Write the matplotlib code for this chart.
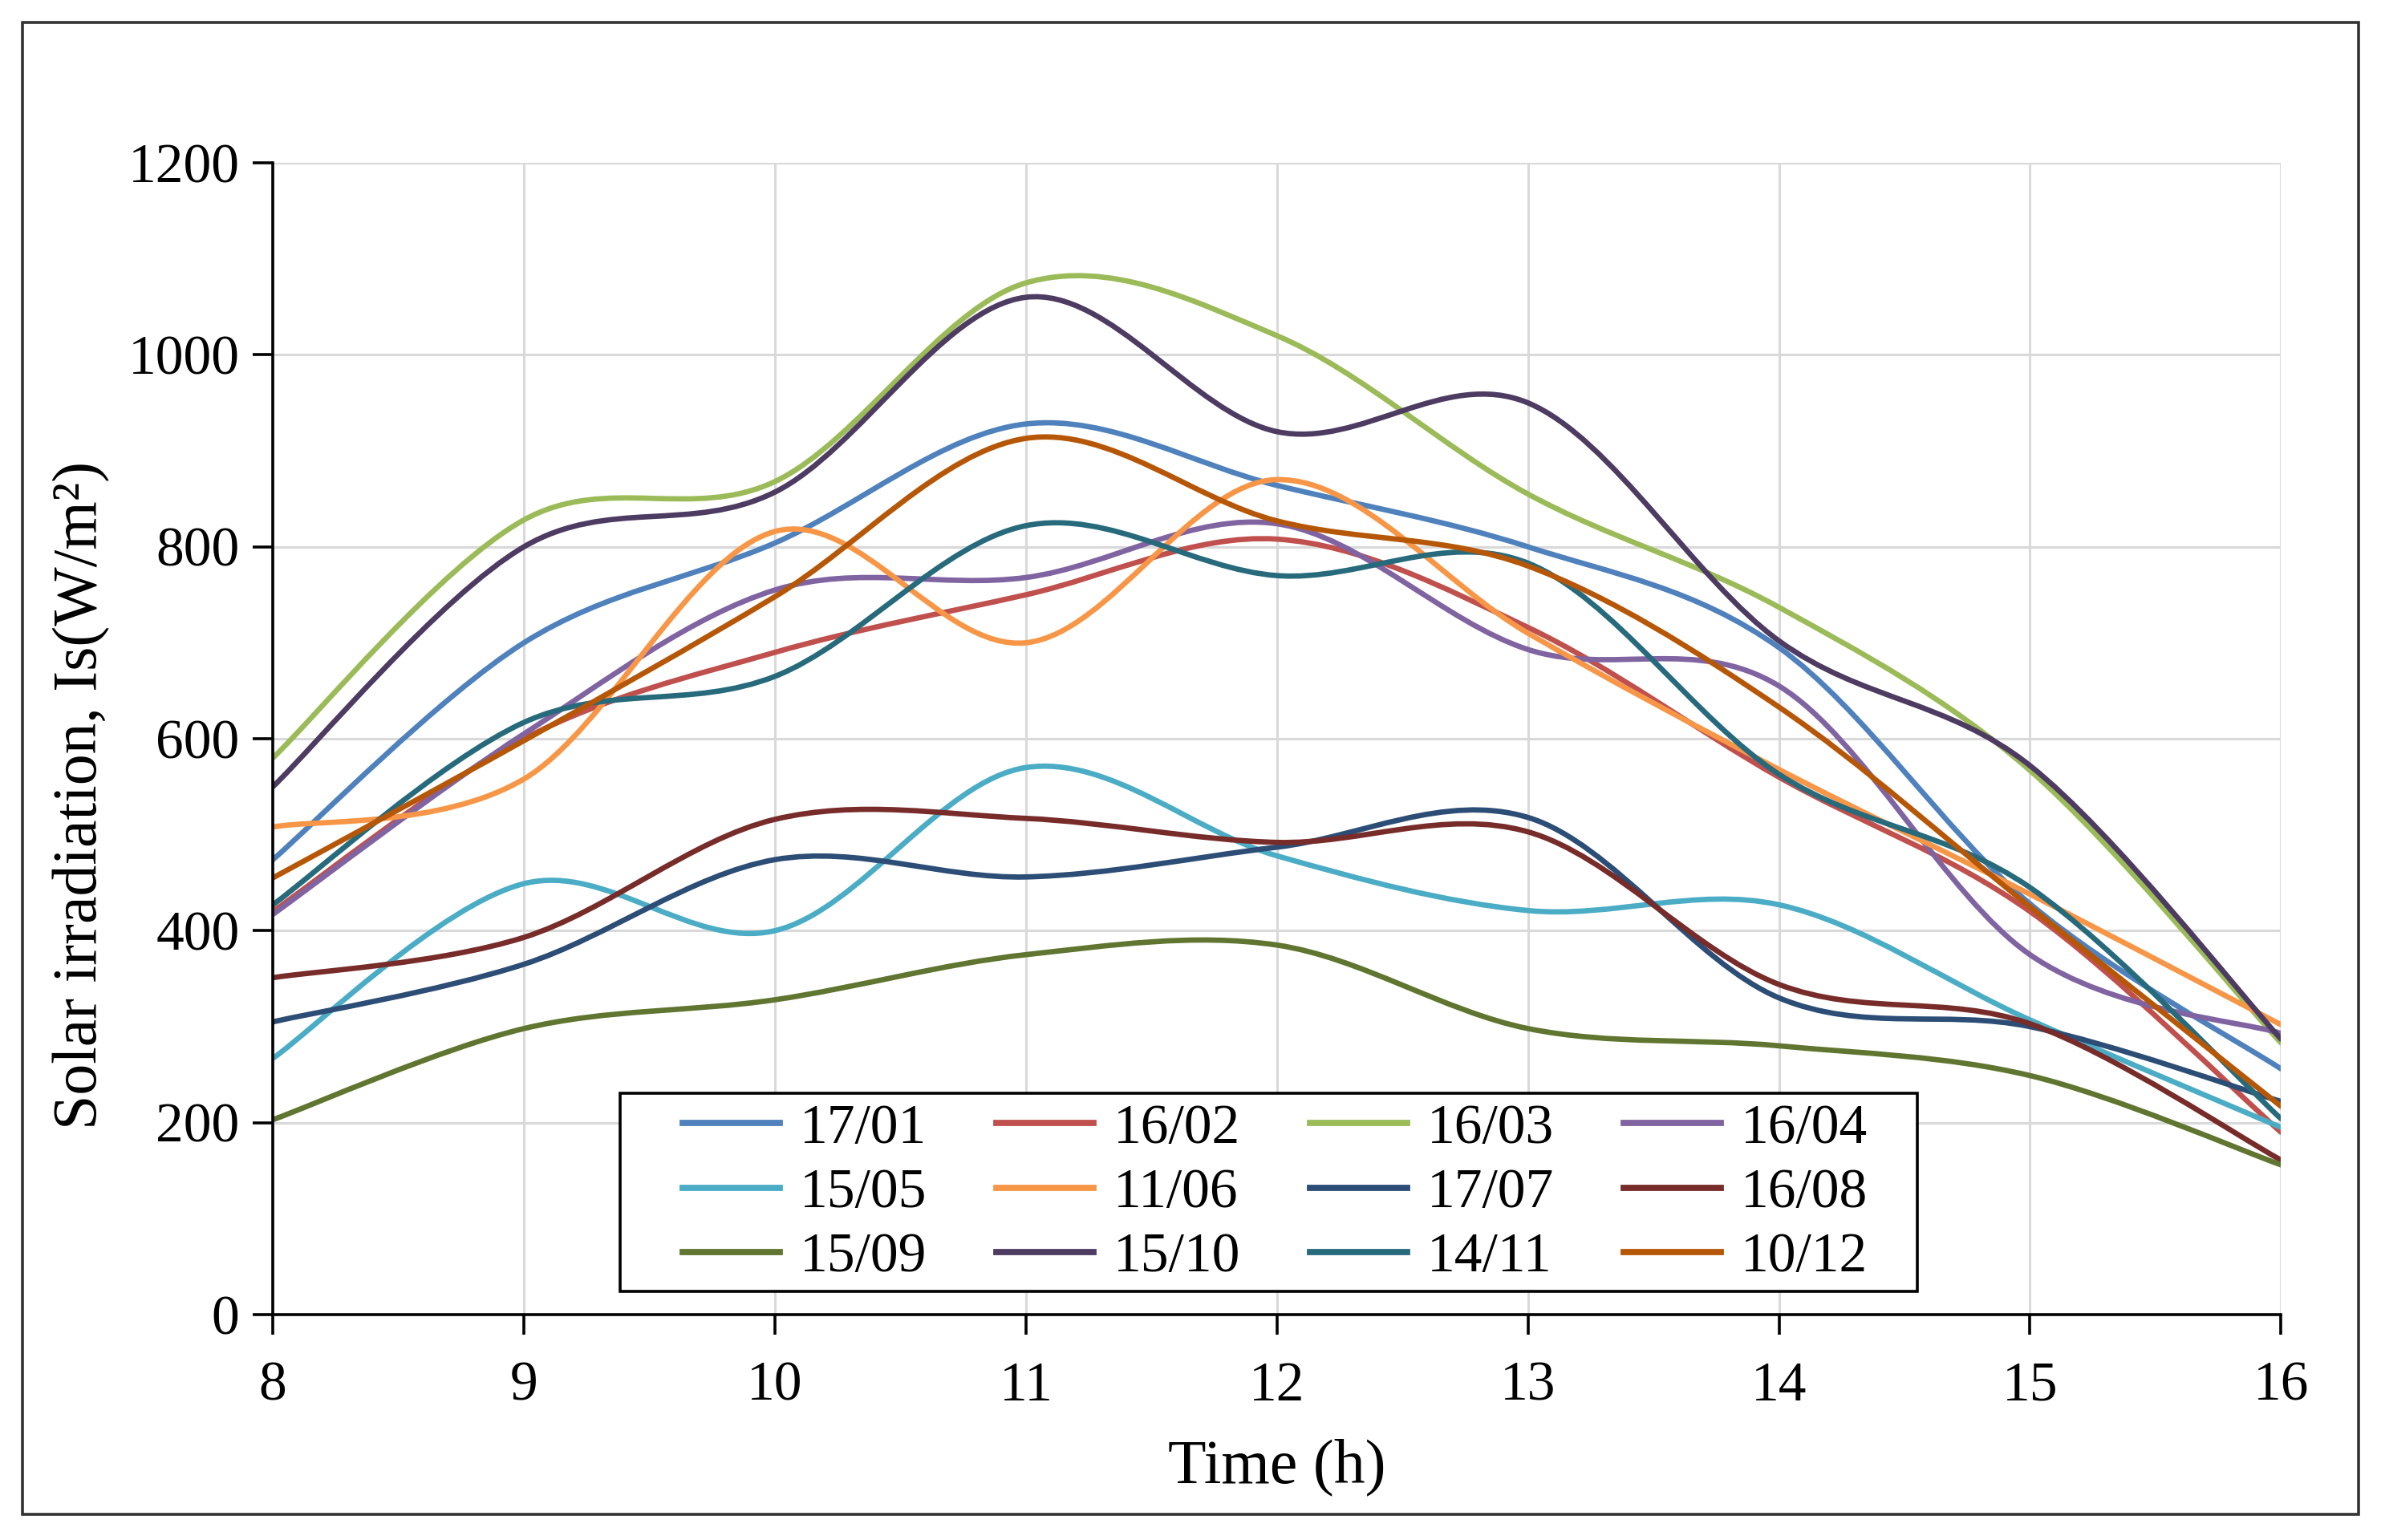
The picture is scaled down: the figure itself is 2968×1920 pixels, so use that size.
import numpy as np
import matplotlib
matplotlib.use("Agg")
from matplotlib import pyplot as plt
from matplotlib.path import Path
from matplotlib.patches import PathPatch, Rectangle
from matplotlib.lines import Line2D

plt.rcParams['font.family'] = ['Liberation Serif', 'DejaVu Serif']

hours = [8, 9, 10, 11, 12, 13, 14, 15, 16]

d_17_01 = [474, 700, 804, 928, 864, 800, 695, 428, 256]
d_16_02 = [420, 600, 690, 750, 808, 716, 560, 420, 190]
d_16_03 = [580, 828, 868, 1075, 1020, 855, 737, 567, 283]
d_16_04 = [417, 605, 755, 768, 824, 693, 655, 375, 293]
d_15_05 = [267, 449, 400, 570, 478, 421, 427, 307, 195]
d_11_06 = [508, 558, 816, 700, 870, 710, 568, 438, 302]
d_17_07 = [305, 365, 474, 456, 487, 518, 330, 300, 222]
d_16_08 = [351, 393, 516, 517, 492, 503, 344, 303, 161]
d_15_09 = [203, 298, 328, 375, 385, 298, 280, 249, 156]
d_15_10 = [550, 800, 857, 1060, 920, 950, 702, 572, 287]
d_14_11 = [427, 617, 665, 822, 770, 783, 563, 445, 204]
d_10_12 = [455, 598, 748, 913, 827, 780, 633, 425, 217]

labels = ['17/01', '16/02', '16/03', '16/04', '15/05', '11/06',
          '17/07', '16/08', '15/09', '15/10', '14/11', '10/12']
series = [d_17_01, d_16_02, d_16_03, d_16_04, d_15_05, d_11_06,
          d_17_07, d_16_08, d_15_09, d_15_10, d_14_11, d_10_12]
colors = ['#4F81BD', '#C0504D', '#9BBB59', '#8064A2', '#4BACC6', '#F79646',
          '#2C4D75', '#772C2A', '#5F7530', '#4D3B62', '#276A7C', '#B65708']


def smooth_path(xs, ys):
    # excel style smoothed line: cubic bezier through every point
    p = np.column_stack([xs, ys]).astype(float)
    n = len(p)
    verts = [p[0]]
    codes = [Path.MOVETO]
    for i in range(n - 1):
        p0 = p[i - 1] if i > 0 else p[i]
        p3 = p[i + 2] if i + 2 < n else p[i + 1]
        c1 = p[i] + (p[i + 1] - p0) / 6.0
        c2 = p[i + 1] - (p3 - p[i]) / 6.0
        verts += [c1, c2, p[i + 1]]
        codes += [Path.CURVE4] * 3
    return Path(verts, codes)


fig = plt.figure(figsize=(14.84, 9.6), dpi=200)
ax = fig.add_axes([0.1146, 0.1464, 0.8434, 0.7478])

for ys, c in zip(series, colors):
    ax.add_patch(PathPatch(smooth_path(hours, ys), facecolor='none',
                           edgecolor=c, lw=2.4, zorder=3, capstyle='round'))

ax.set_xlim(8, 16)
ax.set_ylim(0, 1200)
ax.set_xticks(hours)
ax.set_yticks(range(0, 1201, 200))
ax.grid(True, color='#d9d9d9', lw=1.1, zorder=0)
ax.set_axisbelow(True)
for s in ['top', 'right']:
    ax.spines[s].set_visible(False)
for s in ['left', 'bottom']:
    ax.spines[s].set_linewidth(1.3)
    ax.spines[s].set_zorder(4)
ax.tick_params(axis='both', labelsize=25, length=9, width=1.3, direction='out')
ax.tick_params(axis='x', pad=12)
ax.tick_params(axis='y', pad=6)

ax.set_xlabel('Time (h)', fontsize=28)
ax.set_ylabel('Solar irradiation, Is(W/m²)', fontsize=28)
ax.xaxis.set_label_coords(0.5, -0.108)
ax.yaxis.set_label_coords(-0.081, 0.451)

# legend box drawn by hand, entries filled row by row
ax.add_patch(Rectangle((0.173, 0.020), 0.646, 0.172, transform=ax.transAxes,
                       facecolor='white', edgecolor='black', lw=1.3, zorder=5))
handles = [Line2D([], [], color=c, lw=2.8) for c in colors]
order = [0, 4, 8, 1, 5, 9, 2, 6, 10, 3, 7, 11]
leg = ax.legend([handles[i] for i in order], [labels[i] for i in order],
                ncol=4, loc='center', bbox_to_anchor=(0.499, 0.105),
                fontsize=25, frameon=False, handlelength=1.75, handletextpad=0.35,
                columnspacing=1.25, labelspacing=0.24, borderpad=0.0)
leg.set_zorder(6)

fig.patches.append(Rectangle((0.0096, 0.0167), 0.981, 0.9685, transform=fig.transFigure,
                             fill=False, edgecolor='#333333', lw=1.3))

fig.savefig('out.png', dpi=200)
